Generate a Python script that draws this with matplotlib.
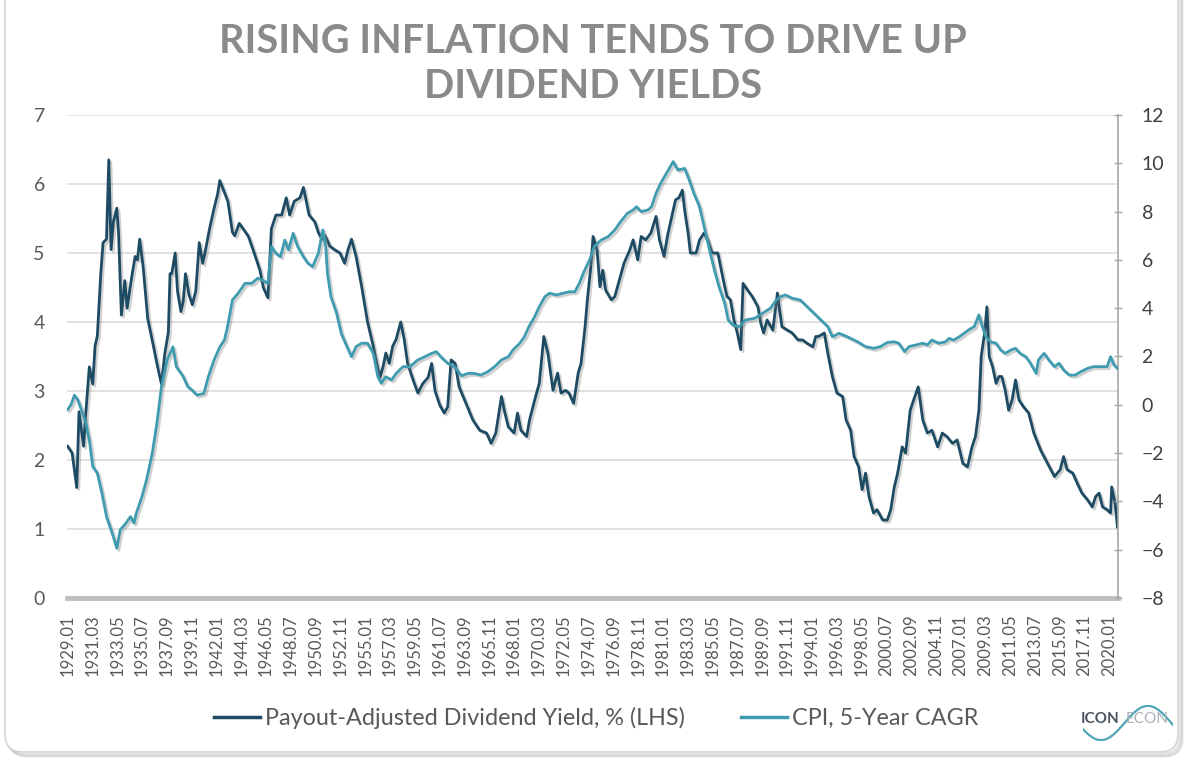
import numpy as np
import matplotlib
matplotlib.use("Agg")
import matplotlib.pyplot as plt
import matplotlib.patheffects as pe
from matplotlib.patches import FancyBboxPatch
from matplotlib.transforms import IdentityTransform
from matplotlib.lines import Line2D

# payout-adjusted dividend yield, % (left axis)
div_year = [
    1929.0, 1929.4, 1929.8, 1930.0, 1930.4, 1930.6, 1930.9, 1931.2, 1931.4, 1931.6,
    1931.9, 1932.1, 1932.4, 1932.6, 1932.8, 1933.0, 1933.3, 1933.45, 1933.7, 1934.0,
    1934.2, 1934.6, 1934.9, 1935.1, 1935.3, 1935.6, 1936.0, 1936.5, 1936.8, 1937.2,
    1937.5, 1937.8, 1937.95, 1938.1, 1938.4, 1938.6, 1938.9, 1939.1, 1939.3, 1939.6,
    1939.9, 1940.2, 1940.5, 1940.8, 1941.0, 1941.4, 1941.8, 1942.1, 1942.3, 1942.65,
    1943.0, 1943.4, 1943.6, 1944.0, 1944.8, 1945.3, 1945.8, 1946.1, 1946.5, 1946.8,
    1947.2, 1947.7, 1948.1, 1948.4, 1948.8, 1949.3, 1949.6, 1949.85, 1950.1, 1950.6,
    1950.9, 1951.2, 1951.5, 1951.9, 1952.3, 1952.8, 1953.2, 1953.5, 1953.8, 1954.2,
    1954.7, 1955.2, 1955.7, 1956.0, 1956.3, 1956.55, 1956.8, 1957.1, 1957.4, 1957.7,
    1958.1, 1958.4, 1958.7, 1959.2, 1959.6, 1960.0, 1960.5, 1960.8, 1961.1, 1961.5,
    1961.9, 1962.2, 1962.5, 1962.85, 1963.2, 1963.8, 1964.4, 1965.0, 1965.6, 1966.0,
    1966.4, 1966.9, 1967.2, 1967.5, 1968.0, 1968.3, 1968.6, 1969.1, 1969.35, 1969.8,
    1970.2, 1970.6, 1970.95, 1971.4, 1971.8, 1972.1, 1972.5, 1972.8, 1973.2, 1973.6,
    1973.85, 1974.2, 1974.4, 1974.7, 1974.9, 1975.25, 1975.5, 1975.75, 1976.0, 1976.5,
    1976.8, 1977.2, 1977.6, 1978.1, 1978.4, 1978.8, 1979.1, 1979.5, 1979.95, 1980.4,
    1980.7, 1981.1, 1981.4, 1981.8, 1982.1, 1982.4, 1982.7, 1982.9, 1983.2, 1983.4,
    1983.9, 1984.2, 1984.6, 1984.9, 1985.3, 1985.8, 1986.1, 1986.4, 1986.6, 1986.9,
    1987.2, 1987.5, 1987.8, 1988.0, 1988.4, 1988.8, 1989.3, 1989.55, 1989.8, 1990.1,
    1990.6, 1991.0, 1991.15, 1991.4, 1991.9, 1992.3, 1992.8, 1993.2, 1993.6, 1994.1,
    1994.35, 1994.6, 1995.1, 1995.4, 1995.8, 1996.2, 1996.7, 1997.0, 1997.4, 1997.7,
    1998.1, 1998.4, 1998.7, 1999.0, 1999.4, 1999.7, 2000.2, 2000.6, 2000.9, 2001.2,
    2001.5, 2001.9, 2002.2, 2002.6, 2002.9, 2003.3, 2003.7, 2004.1, 2004.5, 2005.0,
    2005.4, 2005.8, 2006.3, 2006.7, 2007.2, 2007.6, 2008.0, 2008.3, 2008.6, 2008.8,
    2009.1, 2009.3, 2009.5, 2009.8, 2010.1, 2010.35, 2010.6, 2010.9, 2011.2, 2011.5,
    2011.8, 2012.1, 2012.5, 2012.95, 2013.4, 2014.0, 2014.6, 2015.2, 2015.7, 2016.0,
    2016.3, 2016.8, 2017.2, 2017.6, 2018.1, 2018.5, 2018.8, 2019.1, 2019.4, 2019.8,
    2020.1, 2020.2, 2020.5, 2020.7,
]
div_yield = [
    2.2, 2.1, 1.6, 2.7, 2.2, 2.7, 3.35, 3.1, 3.65, 3.8,
    4.7, 5.15, 5.2, 6.35, 5.05, 5.45, 5.65, 5.3, 4.1, 4.6,
    4.2, 4.65, 4.95, 4.9, 5.2, 4.8, 4.05, 3.65, 3.4, 3.1,
    3.55, 3.85, 4.7, 4.7, 5.0, 4.45, 4.15, 4.3, 4.7, 4.4,
    4.25, 4.45, 5.15, 4.85, 5.0, 5.35, 5.65, 5.85, 6.05, 5.9,
    5.75, 5.3, 5.25, 5.43, 5.24, 5.0, 4.75, 4.5, 4.35, 5.35,
    5.55, 5.55, 5.8, 5.55, 5.75, 5.8, 5.95, 5.75, 5.55, 5.45,
    5.3, 5.2, 5.25, 5.1, 5.05, 5.0, 4.85, 5.05, 5.2, 4.95,
    4.5, 4.0, 3.65, 3.4, 3.2, 3.35, 3.55, 3.4, 3.65, 3.75,
    4.0, 3.75, 3.4, 3.15, 2.97, 3.1, 3.2, 3.4, 3.0, 2.8,
    2.68, 2.77, 3.45, 3.4, 3.06, 2.82, 2.58, 2.43, 2.39, 2.24,
    2.39, 2.92, 2.68, 2.48, 2.39, 2.68, 2.43, 2.34, 2.58, 2.87,
    3.11, 3.79, 3.55, 3.01, 3.26, 2.97, 3.01, 2.97, 2.82, 3.26,
    3.4, 3.93, 4.32, 4.8, 5.24, 5.04, 4.51, 4.75, 4.46, 4.32,
    4.37, 4.61, 4.85, 5.04, 5.19, 4.9, 5.24, 5.19, 5.29, 5.53,
    5.19, 4.95, 5.25, 5.55, 5.77, 5.8, 5.91, 5.62, 5.29, 5.0,
    5.0, 5.19, 5.29, 5.19, 5.0, 5.0, 4.75, 4.51, 4.37, 4.32,
    4.03, 3.84, 3.6, 4.56, 4.46, 4.37, 4.22, 3.98, 3.84, 4.03,
    3.88, 4.42, 4.22, 3.93, 3.88, 3.84, 3.74, 3.74, 3.69, 3.64,
    3.79, 3.79, 3.84, 3.55, 3.21, 2.97, 2.92, 2.58, 2.43, 2.05,
    1.9, 1.57, 1.81, 1.47, 1.23, 1.28, 1.13, 1.13, 1.28, 1.6,
    1.81, 2.19, 2.1, 2.72, 2.87, 3.06, 2.58, 2.39, 2.43, 2.19,
    2.39, 2.34, 2.24, 2.29, 1.95, 1.9, 2.19, 2.34, 2.72, 3.5,
    3.84, 4.22, 3.5, 3.35, 3.11, 3.21, 3.21, 3.01, 2.72, 2.87,
    3.16, 2.87, 2.77, 2.68, 2.39, 2.14, 1.95, 1.76, 1.86, 2.05,
    1.86, 1.81, 1.66, 1.52, 1.42, 1.32, 1.47, 1.52, 1.32, 1.28,
    1.23, 1.61, 1.37, 1.03,
]

# CPI, 5-year CAGR, % (right axis)
cpi_year = [
    1929.0, 1929.3, 1929.6, 1929.9, 1930.2, 1930.6, 1930.9, 1931.2, 1931.6, 1932.0,
    1932.4, 1932.9, 1933.3, 1933.6, 1934.1, 1934.5, 1934.8, 1935.0, 1935.5, 1935.9,
    1936.4, 1936.8, 1937.2, 1937.7, 1938.2, 1938.5, 1939.1, 1939.5, 1939.9, 1940.3,
    1940.9, 1941.3, 1941.8, 1942.3, 1942.7, 1943.0, 1943.4, 1943.9, 1944.5, 1945.1,
    1945.6, 1946.0, 1946.5, 1946.8, 1947.2, 1947.6, 1947.97, 1948.3, 1948.7, 1949.1,
    1949.6, 1950.0, 1950.4, 1950.9, 1951.3, 1951.55, 1951.7, 1952.0, 1952.5, 1952.9,
    1953.4, 1953.8, 1954.2, 1954.7, 1955.2, 1955.7, 1956.1, 1956.4, 1956.8, 1957.3,
    1957.7, 1958.3, 1958.9, 1959.6, 1960.2, 1960.8, 1961.2, 1961.6, 1962.2, 1962.8,
    1963.4, 1963.97, 1964.5, 1965.1, 1965.7, 1966.3, 1966.9, 1967.5, 1967.9, 1968.5,
    1968.9, 1969.3, 1969.8, 1970.2, 1970.7, 1971.1, 1971.7, 1972.3, 1972.8, 1973.3,
    1973.7, 1974.1, 1974.6, 1975.0, 1975.6, 1976.2, 1976.8, 1977.3, 1977.9, 1978.4,
    1978.7, 1979.1, 1979.7, 1980.0, 1980.4, 1980.8, 1981.3, 1981.9, 1982.3, 1982.9,
    1983.3, 1983.7, 1984.2, 1984.6, 1985.0, 1985.5, 1985.9, 1986.4, 1986.7, 1987.1,
    1987.7, 1988.2, 1989.0, 1989.7, 1990.4, 1990.9, 1991.3, 1991.7, 1992.3, 1993.0,
    1993.6, 1994.2, 1994.8, 1995.4, 1995.8, 1996.4, 1997.1, 1998.0, 1998.7, 1999.4,
    2000.0, 2000.6, 2001.2, 2001.6, 2002.1, 2002.5, 2003.1, 2003.7, 2004.1, 2004.5,
    2005.1, 2005.7, 2006.0, 2006.4, 2006.9, 2007.3, 2007.7, 2008.2, 2008.6, 2008.9,
    2009.2, 2009.6, 2010.1, 2010.5, 2010.9, 2011.4, 2011.8, 2012.2, 2012.7, 2013.1,
    2013.6, 2013.8, 2014.3, 2014.7, 2015.2, 2015.6, 2016.0, 2016.5, 2017.0, 2017.5,
    2018.1, 2018.6, 2019.2, 2019.8, 2020.1, 2020.4, 2020.7,
]
cpi_cagr = [
    -0.2, 0.0, 0.4, 0.2, -0.2, -0.77, -1.46, -2.56, -2.83, -3.66,
    -4.63, -5.32, -5.94, -5.18, -4.9, -4.63, -4.9, -4.49, -3.8, -3.1,
    -2.0, -0.77, 0.75, 1.86, 2.4, 1.58, 1.17, 0.75, 0.6, 0.4,
    0.47, 1.17, 1.86, 2.4, 2.68, 3.3, 4.34, 4.62, 5.03, 5.03,
    5.24, 5.17, 5.03, 6.55, 6.27, 6.13, 6.82, 6.41, 7.1, 6.55,
    6.13, 5.86, 5.72, 6.27, 7.24, 6.55, 5.44, 4.48, 3.79, 2.96,
    2.41, 1.99, 2.41, 2.55, 2.55, 2.13, 1.16, 0.89, 1.16, 1.03,
    1.3, 1.58, 1.58, 1.86, 1.99, 2.13, 2.2, 1.99, 1.72, 1.58,
    1.2, 1.3, 1.3, 1.23, 1.37, 1.58, 1.86, 1.99, 2.27, 2.55,
    2.82, 3.24, 3.65, 4.06, 4.48, 4.62, 4.55, 4.62, 4.68, 4.68,
    5.03, 5.51, 6.0, 6.55, 6.82, 6.96, 7.24, 7.58, 7.93, 8.07,
    8.2, 8.0, 8.07, 8.2, 8.76, 9.17, 9.58, 10.07, 9.72, 9.79,
    9.31, 8.76, 8.2, 7.38, 6.55, 5.58, 4.89, 4.2, 3.51, 3.3,
    3.24, 3.51, 3.58, 3.79, 4.0, 4.34, 4.48, 4.55, 4.41, 4.34,
    4.06, 3.79, 3.51, 3.24, 2.82, 2.96, 2.82, 2.61, 2.41, 2.34,
    2.41, 2.58, 2.61, 2.55, 2.2, 2.41, 2.48, 2.55, 2.48, 2.68,
    2.55, 2.61, 2.75, 2.68, 2.82, 2.96, 3.1, 3.24, 3.72, 3.24,
    2.82, 2.61, 2.55, 2.27, 2.13, 2.27, 2.34, 2.13, 1.99, 1.72,
    1.3, 1.86, 2.13, 1.86, 1.58, 1.72, 1.44, 1.23, 1.23, 1.37,
    1.51, 1.58, 1.58, 1.58, 1.99, 1.65, 1.51,
]

# category labels every 26 months
tick_labels = [
    "1929.01", "1931.03", "1933.05", "1935.07", "1937.09", "1939.11", "1942.01",
    "1944.03", "1946.05", "1948.07", "1950.09", "1952.11", "1955.01", "1957.03",
    "1959.05", "1961.07", "1963.09", "1965.11", "1968.01", "1970.03", "1972.05",
    "1974.07", "1976.09", "1978.11", "1981.01", "1983.03", "1985.05", "1987.07",
    "1989.09", "1991.11", "1994.01", "1996.03", "1998.05", "2000.07", "2002.09",
    "2004.11", "2007.01", "2009.03", "2011.05", "2013.07", "2015.09", "2017.11",
    "2020.01",
]

DARK = "#1d4b63"
TEAL = "#3f9bb0"
GREY_TXT = "#595959"
FONT = "Lato"

W, H = 1186, 760
fig = plt.figure(figsize=(W / 100, H / 100), dpi=100)
fig.patch.set_facecolor("white")

# card with soft shadow
for off, col, a in [((4, -4), "#9a9a9a", 0.35), ((2, -2), "#b5b5b5", 0.35)]:
    fig.patches.append(FancyBboxPatch((5 + off[0], 8 + off[1]), 1173, 790,
                                      boxstyle="round,pad=0,rounding_size=18",
                                      transform=IdentityTransform(), fc="none",
                                      ec=col, lw=2, alpha=a, zorder=-2))
fig.patches.append(FancyBboxPatch((5, 8), 1173, 790, boxstyle="round,pad=0,rounding_size=18",
                                  transform=IdentityTransform(), fc="white", ec="#d4d4d4",
                                  lw=1.2, zorder=-1))

ax = fig.add_axes([67 / W, 1 - 598 / H, (1118 - 67) / W, (598 - 115) / H])
ax.set_facecolor("none")
ax2 = ax.twinx()

shadow = [pe.SimpleLineShadow(offset=(1.5, -1.5), shadow_color="#7a7a7a", alpha=0.35),
          pe.Normal()]
ax.plot(div_year, div_yield, color=DARK, lw=2.0, path_effects=shadow, zorder=3)
ax2.plot(cpi_year, cpi_cagr, color=TEAL, lw=2.0, path_effects=shadow, zorder=3)

ax.set_xlim(1928.95, 2020.75)
ax.set_ylim(0, 7)
ax2.set_ylim(-8, 12)
ax.set_yticks(range(0, 8))
ax2.set_yticks(range(-8, 13, 2))
ax.grid(axis="y", color="#d9d9d9", lw=1.1)
ax.set_axisbelow(True)

tick_pos = [int(t[:4]) + (int(t[5:]) - 1) / 12 for t in tick_labels]
ax.set_xticks(tick_pos)
ax.set_xticklabels(tick_labels, rotation=90, fontsize=12, color=GREY_TXT, family=FONT)
ax.tick_params(axis="x", length=0, pad=12)
ax.tick_params(axis="y", length=0, pad=16, labelsize=14, labelcolor=GREY_TXT)
ax2.tick_params(axis="y", direction="inout", length=6, width=1, color="#a6a6a6",
                pad=14, labelsize=14, labelcolor="#404040")
for lab in ax.get_yticklabels() + ax2.get_yticklabels():
    lab.set_family(FONT)

for a in (ax, ax2):
    for s in ("top", "left"):
        a.spines[s].set_visible(False)
ax.spines["right"].set_visible(False)
ax2.spines["bottom"].set_visible(False)
ax.spines["bottom"].set_color("#bfbfbf")
ax.spines["bottom"].set_linewidth(3.5)
ax2.spines["right"].set_color("#a6a6a6")
ax2.spines["right"].set_linewidth(1.2)

for yy, line in [(41.5, "RISING INFLATION TENDS TO DRIVE UP"), (86, "DIVIDEND YIELDS")]:
    fig.text(0.5, 1 - yy / H, line, ha="center", va="center", fontsize=28.5,
             fontweight="bold", color="#8a8a8a", family=FONT)

handles = [Line2D([], [], color=DARK, lw=2.5), Line2D([], [], color=TEAL, lw=2.5)]
fig.legend(handles, ["Payout-Adjusted Dividend Yield, % (LHS)", "CPI, 5-Year CAGR"],
           loc="center", bbox_to_anchor=(596 / W, 1 - 718 / H), ncol=2, frameon=False,
           prop={"family": FONT, "size": 16.8}, labelcolor=GREY_TXT,
           handlelength=2.0, handletextpad=0.2, columnspacing=2.4)

# logo: wordmark with a wave
lax = fig.add_axes([1083 / W, 1 - 741 / H, 90 / W, 36 / H])
lax.axis("off")
u = np.linspace(0, 1, 100)
lax.plot(u, np.sin(2 * np.pi * (0.96 * u + 0.558)), color="#4ea6b8", lw=1.6)
lax.set_ylim(-1.05, 1.05)
lax.set_xlim(0, 1)
fig.text(1100 / W, 1 - 719 / H, "ICON", ha="center", va="center", fontsize=11,
         fontweight="bold", color="#4a5561", family=FONT)
fig.text(1147 / W, 1 - 719 / H, "ECON", ha="center", va="center", fontsize=11,
         color="#a8b0b8", family=FONT)

fig.savefig("out.png", dpi=100, facecolor="white")
